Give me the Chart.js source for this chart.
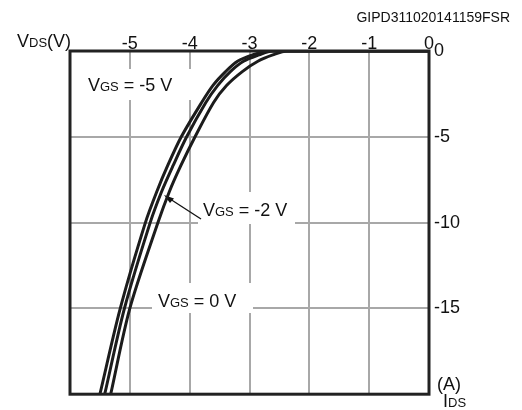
<!DOCTYPE html>
<html>
<head>
<meta charset="utf-8">
<script src="https://cdn.jsdelivr.net/npm/chart.js@4"></script>
<style>
  html, body { margin: 0; padding: 0; background: #fff; }
  #wrap { position: relative; width: 522px; height: 410px; }
</style>
</head>
<body>
<div id="wrap"><canvas id="myChart"></canvas></div>
<script>
// tick values
const vdsTicks = [-5, -4, -3, -2, -1, 0];
const idsTicks = [0, -5, -10, -15];

// IDS levels (A) where the curves were read
const idsPoints = [-20, -15, -10, -8.2, -6.7, -5, -3, -2, -1.2, -0.6, -0.23, 0, 0];

// VDS (V) for each gate voltage
const vdsVgsMinus5 = [-5.50, -5.16, -4.74, -4.55, -4.37, -4.14, -3.80, -3.61, -3.40, -3.20, -2.95, -2.69, 0];
const vdsVgsMinus2 = [-5.42, -5.09, -4.66, -4.47, -4.28, -4.05, -3.73, -3.53, -3.32, -3.10, -2.84, -2.62, 0];
const vdsVgs0      = [-5.32, -5.00, -4.53, -4.34, -4.15, -3.91, -3.60, -3.38, -3.12, -2.86, -2.61, -2.37, 0];

const FONT = '"Liberation Sans", Arial, sans-serif';

function toPoints(xs) {
  return xs.map((x, i) => ({ x: x, y: idsPoints[i] }));
}

function curve(label, xs) {
  return {
    label: label,
    data: toPoints(xs),
    showLine: true,
    borderColor: '#1c1c1c',
    borderWidth: 3,
    pointRadius: 0,
    fill: false,
    tension: 0.3
  };
}

// "V" + small "GS" + rest, on one baseline
function drawSub(ctx, x, base, big, small, rest) {
  ctx.textBaseline = 'alphabetic';
  ctx.textAlign = 'left';
  ctx.font = '18px ' + FONT;
  ctx.fillText(big, x, base);
  x += ctx.measureText(big).width;
  ctx.font = '13px ' + FONT;
  ctx.fillText(small, x, base);
  x += ctx.measureText(small).width;
  ctx.font = '18px ' + FONT;
  ctx.fillText(rest, x, base);
}

const labelsPlugin = {
  id: 'labels',
  beforeDatasetsDraw: (chart) => {
    let ctx = chart.ctx;
    ctx.save();
    // white boxes behind the curve labels
    ctx.fillStyle = '#fff';
    ctx.fillRect(80, 69, 112, 31);
    ctx.fillRect(198, 192, 97, 32);
    ctx.fillRect(152, 283, 101, 30);
    ctx.fillStyle = '#111';
    drawSub(ctx, 88, 91, 'V', 'GS', ' = -5 V');
    drawSub(ctx, 203, 216, 'V', 'GS', ' = -2 V');
    drawSub(ctx, 158, 307, 'V', 'GS', ' = 0 V');

    // arrow to the VGS = -2 V curve
    ctx.strokeStyle = '#111';
    ctx.lineWidth = 1.3;
    ctx.beginPath();
    ctx.moveTo(201, 219);
    ctx.lineTo(167, 197);
    ctx.stroke();
    ctx.beginPath();
    ctx.moveTo(164, 195);
    ctx.lineTo(174, 198.5);
    ctx.lineTo(170, 203);
    ctx.closePath();
    ctx.fillStyle = '#111';
    ctx.fill();
    ctx.restore();
  },
  afterDatasetsDraw: (chart) => {
    let ctx = chart.ctx;
    let a = chart.chartArea;
    ctx.save();
    ctx.strokeStyle = '#222';
    ctx.lineWidth = 3;
    ctx.strokeRect(a.left, a.top, a.right - a.left, a.bottom - a.top);
    ctx.restore();
  },
  afterDraw: (chart) => {
    let ctx = chart.ctx;
    ctx.save();
    ctx.fillStyle = '#111';
    ctx.font = '14px ' + FONT;
    ctx.textAlign = 'right';
    ctx.textBaseline = 'middle';
    ctx.fillText('GIPD311020141159FSR', 510, 18);
    drawSub(ctx, 17, 47, 'V', 'DS', '(V)');
    ctx.font = '18px ' + FONT;
    ctx.textAlign = 'left';
    ctx.textBaseline = 'alphabetic';
    ctx.fillText('(A)', 437, 390);
    drawSub(ctx, 443, 407, 'I', 'DS', '');
    ctx.restore();
  }
};

var ctx = document.getElementById('myChart').getContext('2d');
let myChart = new Chart(ctx, {
  type: 'scatter',
  data: {
    datasets: [
      curve('VGS = -5 V', vdsVgsMinus5),
      curve('VGS = -2 V', vdsVgsMinus2),
      curve('VGS = 0 V', vdsVgs0)
    ]
  },
  options: {
    responsive: true,
    maintainAspectRatio: false,
    animation: false,
    layout: { padding: { left: 70, right: 0, top: 0, bottom: 7 } },
    plugins: {
      legend: { display: false },
      tooltip: { enabled: false }
    },
    scales: {
      x: {
        type: 'linear',
        position: 'top',
        min: -6,
        max: 0,
        afterBuildTicks: (s) => { s.ticks = vdsTicks.map(v => ({ value: v })); },
        afterFit: (s) => { s.height = 51; },
        grid: { color: '#a8a8a8', lineWidth: 2, drawTicks: false },
        border: { display: false },
        ticks: {
          padding: -4,
          color: '#111',
          font: { family: FONT, size: 18 },
          callback: (v) => String(v)
        }
      },
      y: {
        type: 'linear',
        position: 'right',
        min: -20,
        max: 0,
        afterBuildTicks: (s) => { s.ticks = idsTicks.map(v => ({ value: v })); },
        afterFit: (s) => { s.width = 93; },
        grid: { color: '#a8a8a8', lineWidth: 2, drawTicks: false },
        border: { display: false },
        ticks: {
          padding: 5,
          color: '#111',
          font: { family: FONT, size: 18 },
          callback: (v) => String(v)
        }
      }
    }
  },
  plugins: [labelsPlugin]
});
</script>
</body>
</html>
